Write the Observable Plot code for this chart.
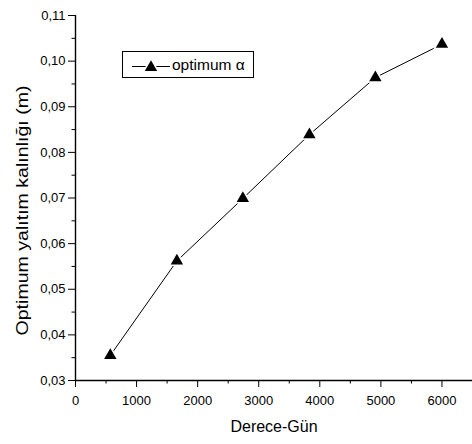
<!DOCTYPE html>
<html>
<head>
<meta charset="utf-8">
<script src="https://cdn.jsdelivr.net/npm/d3@7"></script>
<script src="https://cdn.jsdelivr.net/npm/@observablehq/plot@0.6"></script>
<style>
  html, body { margin: 0; padding: 0; background: #fff; }
  #wrap { position: relative; width: 472px; height: 444px; font-family: "Liberation Sans", Arial, sans-serif; }
  #legend { position: absolute; left: 122px; top: 51px; width: 132px; height: 27px; border: 1px solid #000; box-sizing: border-box; background: #fff; }
  #legend svg { position: absolute; left: 0; top: 0; }
  #legend span { position: absolute; left: 49px; top: 4px; font-size: 15.5px; color: #000; white-space: nowrap; }
</style>
</head>
<body>
<div id="wrap">
  <div id="chart"></div>
  <div id="legend">
    <svg width="50" height="27"><line x1="9" x2="47" y1="14.5" y2="14.5" stroke="#000" stroke-width="1"/><path id="legtri" fill="#000" stroke="#fff" stroke-width="3" paint-order="stroke"/></svg>
    <span>optimum α</span>
  </div>
</div>
<script>
const degreeDays = [570, 1660, 2740, 3830, 4910, 6000];
const thickness = [0.0355, 0.0562, 0.0699, 0.0839, 0.0964, 0.1037];
const xTicks = [0, 1000, 2000, 3000, 4000, 5000, 6000];
const xMinorTicks = [500, 1500, 2500, 3500, 4500, 5500, 6500];
const yTicks = [0.03, 0.04, 0.05, 0.06, 0.07, 0.08, 0.09, 0.10, 0.11];
const yMinorTicks = [0.035, 0.045, 0.055, 0.065, 0.075, 0.085, 0.095, 0.105];
const xLabel = "Derece-Gün";
const yLabel = "Optimum yalıtım kalınlığı (m)";
const seriesName = "optimum α";

const data = degreeDays.map((d, i) => ({x: d, y: thickness[i]}));
const fmt = d => d.toFixed(2).replace(".", ",");

const chart = Plot.plot({
  width: 472,
  height: 444,
  marginLeft: 75,
  marginRight: 0,
  marginTop: 15,
  marginBottom: 64,
  style: {fontFamily: "Liberation Sans, Arial, sans-serif", fontSize: "13px", color: "#000", background: "#fff"},
  x: {domain: [0, 6500]},
  y: {domain: [0.03, 0.11]},
  marks: [
    Plot.axisX(xTicks, {tickSize: 7, tickPadding: 8, tickFormat: d => String(d), label: null, fontSize: 13}),
    Plot.axisX(xMinorTicks, {tickSize: 3.5, tickFormat: () => "", label: null}),
    Plot.axisY(yTicks, {tickSize: 7, tickPadding: 3, tickFormat: fmt, label: null, fontSize: 13}),
    Plot.axisY(yMinorTicks, {tickSize: 3.5, tickFormat: () => "", label: null}),
    Plot.ruleY([0.03], {stroke: "#000", strokeWidth: 1.4}),
    Plot.ruleX([0], {stroke: "#000", strokeWidth: 1.4}),
    Plot.line(data, {x: "x", y: "y", stroke: "#000", strokeWidth: 1}),
    Plot.dot(data, {x: "x", y: "y", symbol: "triangle", r: 4.6, fill: "#000", stroke: "#fff", strokeWidth: 3, paintOrder: "stroke"}),
    Plot.text([xLabel], {frameAnchor: "bottom", dy: 51, fontSize: 16, fill: "#000"}),
    Plot.text([yLabel], {frameAnchor: "left", textAnchor: "middle", dx: -53, dy: 12.5, rotate: -90, fontSize: 16, fill: "#000", className: "ylabel"})
  ]
});
document.getElementById("chart").appendChild(chart);
// stretch the rotated y label along its length as in the reference
d3.select(chart).selectAll(".ylabel text").attr("textLength", 250).attr("lengthAdjust", "spacingAndGlyphs");

// legend triangle, same symbol as the plot
const tri = d3.symbol(d3.symbolTriangle, Math.PI * 4.6 * 4.6)();
const lt = document.getElementById("legtri");
lt.setAttribute("d", tri);
lt.setAttribute("transform", "translate(28,15.5)");
</script>
</body>
</html>
